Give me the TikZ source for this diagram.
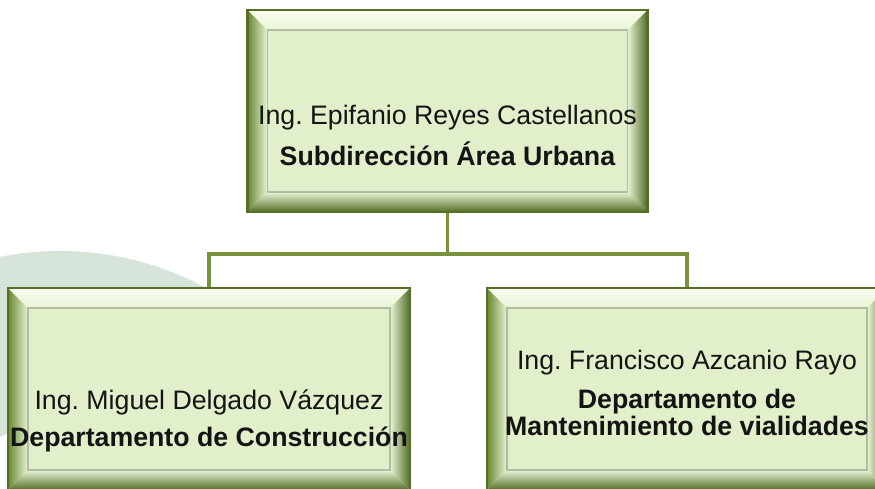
\documentclass[tikz,border=0pt]{standalone}
\usepackage{fontspec}
\setmainfont{Liberation Sans}
\usetikzlibrary{calc}
\frenchspacing

\definecolor{ringgray}{RGB}{214,228,217}
\definecolor{linkgreen}{RGB}{119,147,60}
\definecolor{edgegreen}{RGB}{84,112,38}
\definecolor{bevdark}{RGB}{104,136,48}
\definecolor{bevlight}{RGB}{232,244,214}
\definecolor{bevtop}{RGB}{248,252,240}
\definecolor{panelgreen}{RGB}{226,239,203}
\definecolor{panelline}{RGB}{178,188,162}
\definecolor{inkgray}{RGB}{20,20,20}

\tikzset{
  orgbox/.style={rectangle, draw=edgegreen, line width=1.2pt, fill=panelgreen,
    minimum width=8cm, minimum height=4.04cm, inner sep=0pt,
    path picture={
      \coordinate (bb-sw) at (path picture bounding box.south west);
      \coordinate (bb-ne) at (path picture bounding box.north east);
      \coordinate (bb-nw) at (bb-sw |- bb-ne);
      \coordinate (bb-se) at (bb-ne |- bb-sw);
      % bevel, left / top / right / bottom
      \shade[left color=bevdark, right color=bevlight]
        (bb-sw) -- (bb-nw) -- ($(bb-nw)+(0.4,-0.4)$) -- ($(bb-sw)+(0.4,0.4)$) -- cycle;
      \shade[top color=bevtop, bottom color=bevlight]
        (bb-nw) -- (bb-ne) -- ($(bb-ne)+(-0.4,-0.4)$) -- ($(bb-nw)+(0.4,-0.4)$) -- cycle;
      \shade[left color=bevlight, right color=bevdark!80!black]
        (bb-ne) -- (bb-se) -- ($(bb-se)+(-0.4,0.4)$) -- ($(bb-ne)+(-0.4,-0.4)$) -- cycle;
      \shade[top color=bevlight, bottom color=bevdark!80!black]
        (bb-se) -- (bb-sw) -- ($(bb-sw)+(0.4,0.4)$) -- ($(bb-se)+(-0.4,0.4)$) -- cycle;
      % inner panel
      \draw[panelline, line width=0.6pt, fill=panelgreen]
        ($(bb-sw)+(0.4,0.4)$) rectangle ($(bb-ne)+(-0.4,-0.4)$);
    }},
  boxtext/.style={align=center, text=inkgray, inner sep=0pt,
    font=\fontsize{15.2pt}{15.5pt}\selectfont},
  link/.style={draw=linkgreen, line width=2.2pt},
}

\begin{document}
\begin{tikzpicture}
\useasboundingbox (0,0) rectangle (17.5,9.76);

% Drawing background ring
\fill[ringgray, even odd rule] (1.2,-1.38) circle (6.12) (1.2,-1.38) circle (2.68);

% Drawing box Subdireccion
\node[orgbox] (top) at (8.95,7.54) {};
\node[boxtext] (top-txt) at (8.95,7.05)
  {Ing. Epifanio Reyes Castellanos\\[5.5pt]\textbf{Subdirección Área Urbana}};

% Drawing box Construccion
\node[orgbox, minimum width=8.04cm] (left) at (4.18,1.98) {};
\node[boxtext] (left-txt) at (4.18,1.35)
  {Ing. Miguel Delgado Vázquez\\[5.5pt]\textbf{Departamento de Construcción}};

% Drawing box Mantenimiento
\node[orgbox] (right) at (13.74,1.98) {};
\node[boxtext] (right-txt) at (13.74,1.90)
  {Ing. Francisco Azcanio Rayo\\[6.5pt]\textbf{Departamento de}\\\textbf{Mantenimiento de vialidades}};

% Drawing links
\draw[link] (top.south) -- ++(0,-0.82) -| (left.north);
\draw[link] (top.south) -- ++(0,-0.82) -| (right.north);
\end{tikzpicture}
\end{document}
